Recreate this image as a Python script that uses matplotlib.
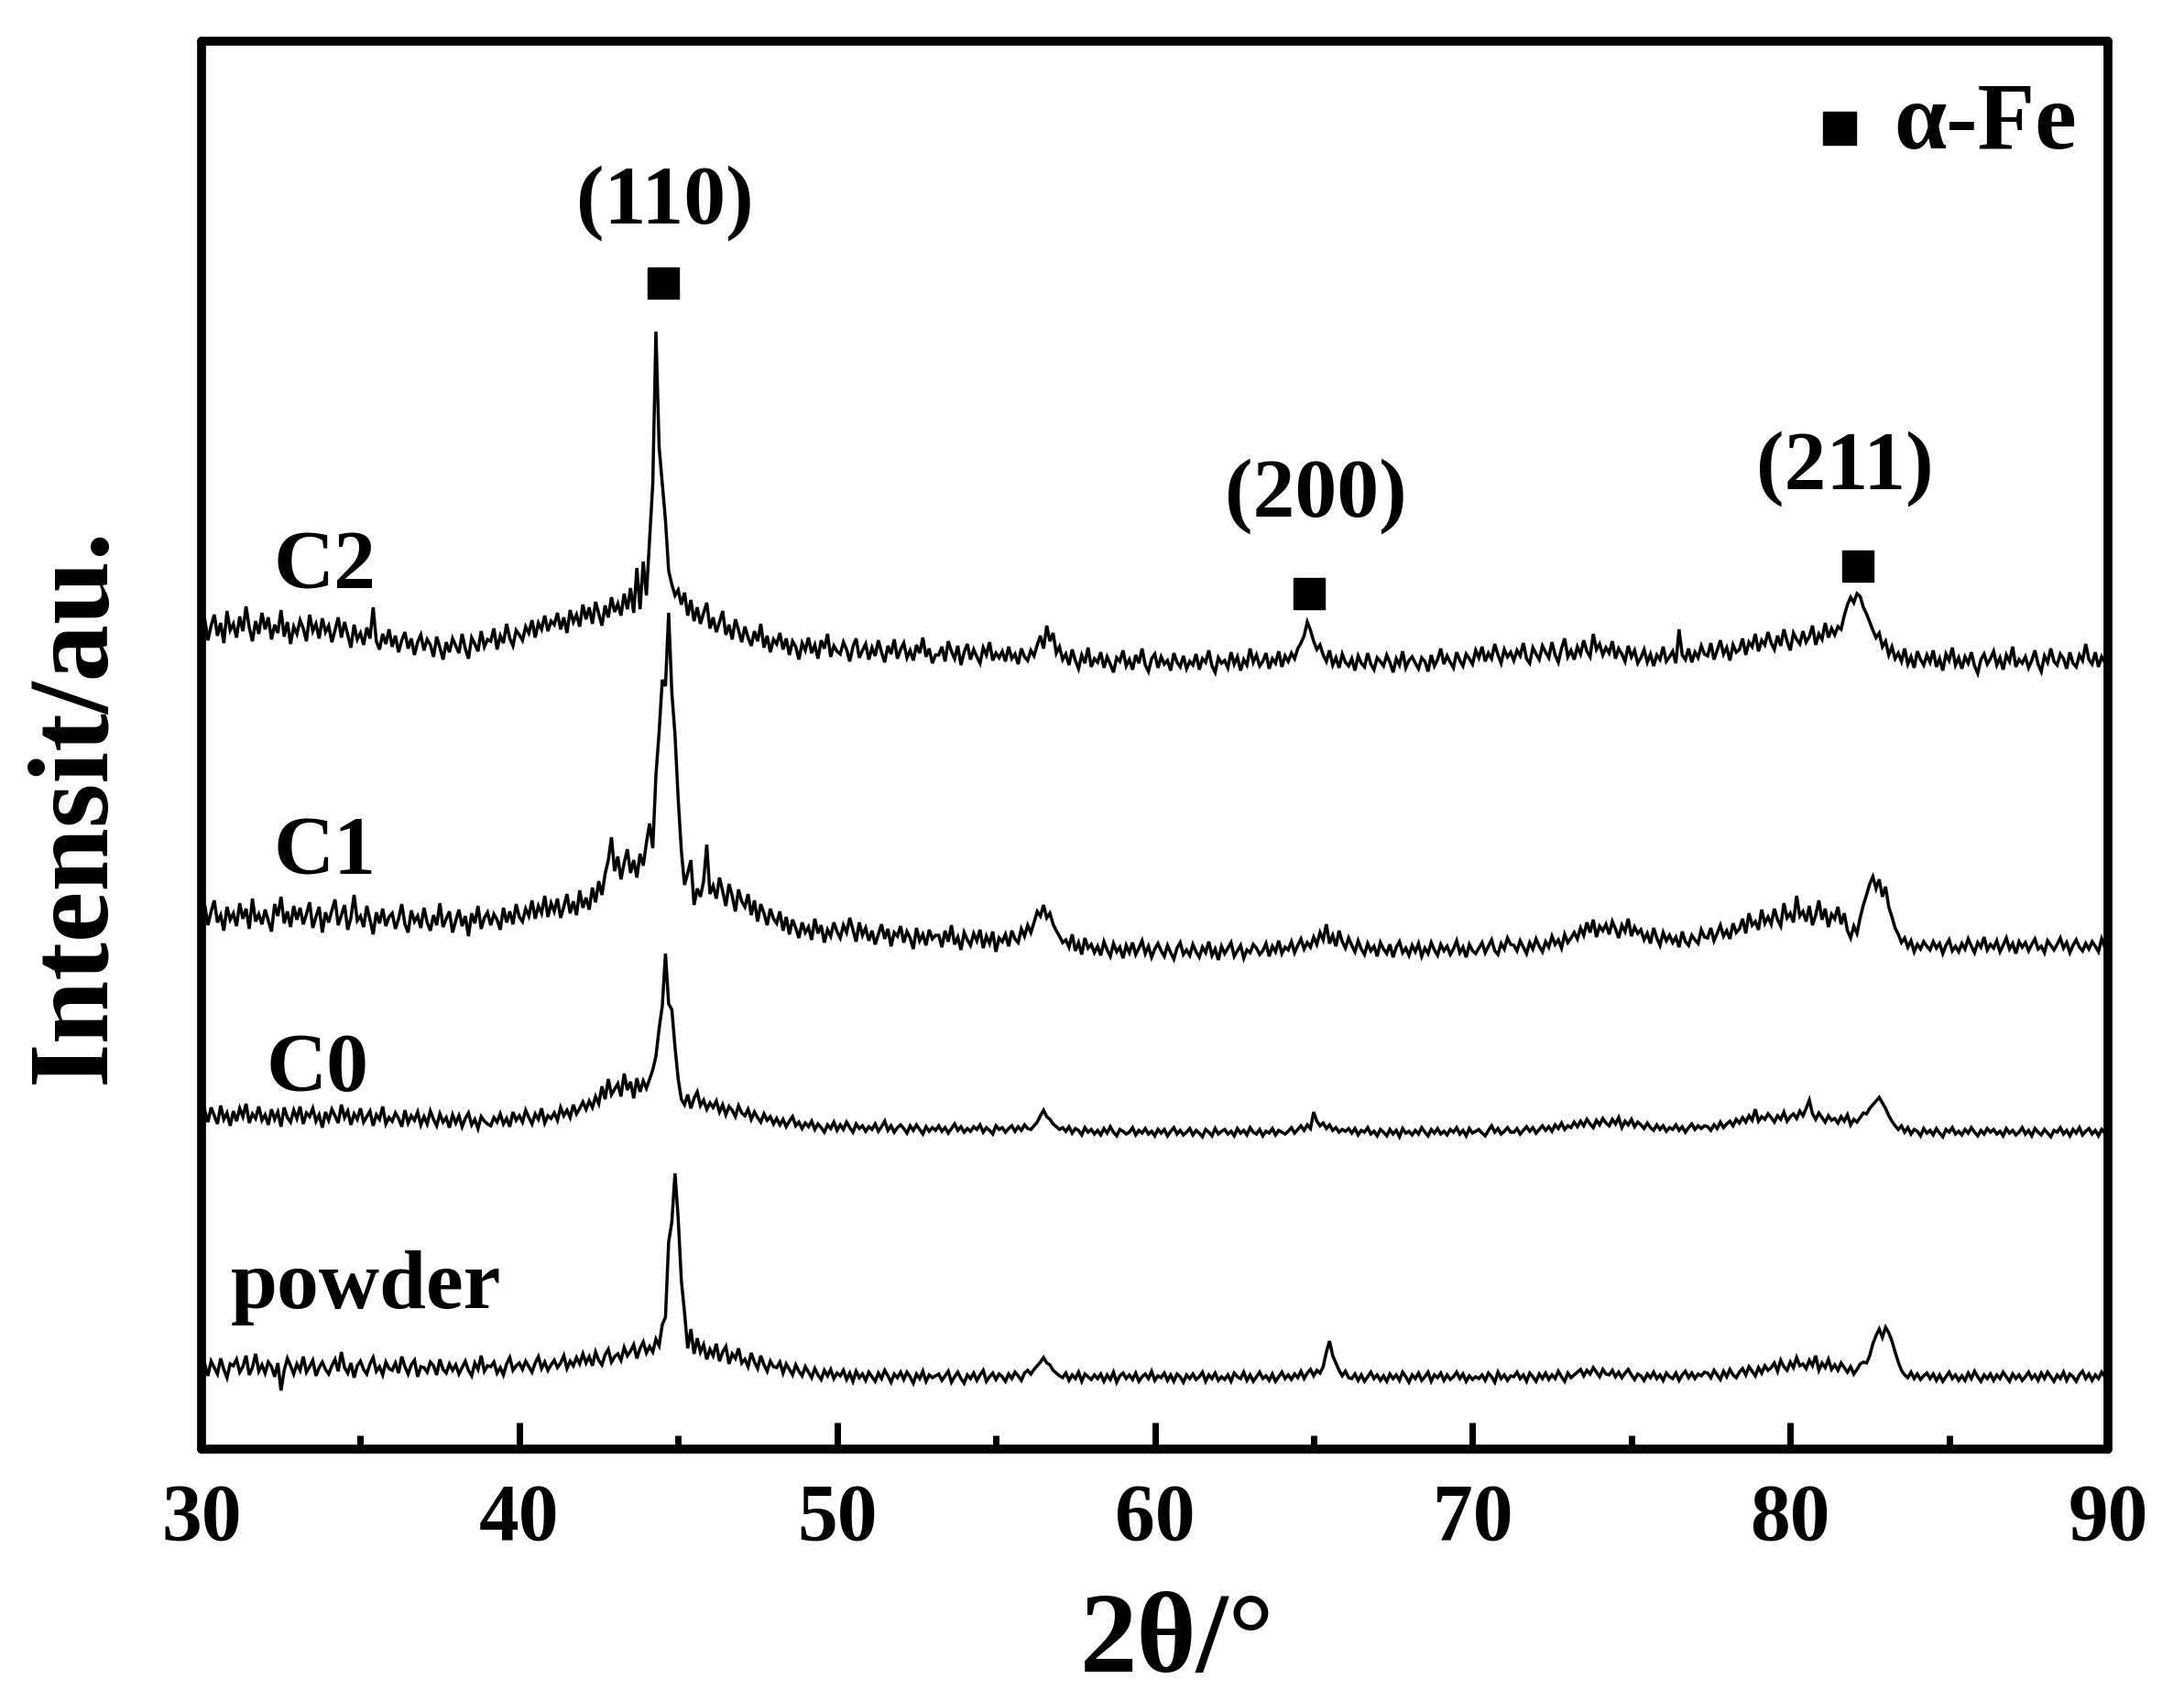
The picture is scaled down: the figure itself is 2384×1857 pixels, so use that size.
import numpy as np
import matplotlib
matplotlib.use('Agg')
import matplotlib.pyplot as plt

plt.rcParams['font.family'] = ['Liberation Serif', 'DejaVu Serif']
plt.rcParams['font.weight'] = 'bold'

# scan grid: 30 deg start, 0.1 deg step
start = 30.0
step = 0.1

# intensities (a.u.), one row per degree
powder = [
    91, 99, 86, 102, 95, 88, 105, 93, 84, 99,
    97, 104, 90, 96, 108, 87, 95, 110, 91, 98,
    89, 101, 96, 85, 100, 70, 92, 105, 97, 88,
    99, 92, 107, 90, 96, 103, 86, 95, 101, 93,
    88, 97, 104, 91, 112, 95, 89, 100, 84, 97,
    102, 93, 88, 99, 106, 91, 96, 87, 101, 94,
    92, 100, 89, 107, 96, 88, 98, 103, 85, 96,
    95, 90, 101, 97, 87, 104, 93, 89, 99, 92,
    98, 88, 95, 102, 92, 86, 100, 93, 108, 91, 97,
    96, 101, 89, 95, 87, 99, 106, 92, 97, 100,
    93, 102, 96, 90, 100, 107, 94, 101, 92, 98,
    103, 95, 100, 108, 94, 102, 97, 106, 99, 110,
    100, 107, 97, 112, 103, 98, 109, 115, 101, 107,
    110, 103, 117, 108, 113, 120, 105, 116, 123, 111,
    118, 112, 126, 119, 142, 150, 232, 254, 307, 258,
    190, 155, 116, 137, 110, 127, 112, 120, 104, 115,
    108, 121, 102, 112, 118, 99, 110, 105, 116, 100,
    104, 96, 111, 101, 94, 108, 98, 91, 102, 96,
    95, 101, 89, 99, 93, 87, 98, 91, 86, 96,
    90, 84, 94, 87, 82, 92, 86, 93, 83, 89,
    86, 92, 82, 89, 80, 91, 84, 88, 81, 90,
    85, 80, 89, 83, 92, 86, 79, 88, 84, 90,
    82, 90, 85, 78, 88, 83, 91, 80, 87, 84, 86,
    88, 81, 86, 91, 79, 85, 90, 83, 78, 87,
    83, 89, 81, 87, 92, 80, 85, 89, 82, 88,
    85, 80, 88, 83, 90, 86, 81, 89, 92, 88,
    93, 97, 101, 106, 100, 98, 92, 89, 86, 84,
    89, 81, 87, 83, 90, 80, 88, 85, 82, 87,
    83, 88, 80, 87, 82, 90, 79, 86, 89, 83,
    87, 82, 89, 80, 85, 88, 83, 91, 81, 86,
    84, 89, 81, 87, 80, 88, 85, 79, 87, 83,
    88, 82, 85, 90, 80, 87, 83, 89, 81, 85,
    82, 87, 80, 89, 85, 83, 90, 81, 87, 80,
    85, 90, 83, 86, 81, 88, 80, 85, 90, 83,
    87, 82, 88, 84, 91, 83, 89, 93, 86, 92,
    89, 96, 112, 124, 108, 100, 92, 86, 91, 84,
    83, 88, 81, 87, 80, 85, 90, 83, 87, 81,
    86, 80, 88, 83, 87, 81, 90, 85, 79, 87,
    83, 89, 81, 85, 90, 80, 87, 84, 89, 81,
    87, 82, 85, 90, 83, 88, 80, 86, 82, 85,
    83, 87, 81, 89, 85, 79, 90, 83, 87, 81, 86,
    85, 90, 83, 87, 80, 89, 85, 80, 88, 83,
    89, 82, 87, 83, 91, 85, 80, 89, 84, 87,
    90, 93, 86, 92, 88, 95, 90, 85, 93, 88,
    87, 92, 85, 90, 84, 89, 93, 87, 82, 88,
    86, 81, 88, 84, 90, 83, 87, 81, 89, 85,
    83, 89, 81, 87, 91, 84, 89, 83, 88, 86, 90,
    89, 84, 92, 87, 82, 91, 85, 93, 87, 84,
    90, 94, 87, 96, 91, 86, 95, 89, 97, 92,
    95, 100, 91, 103, 96, 92, 101, 95, 106, 97,
    99, 94, 103, 97, 108, 92, 100, 95, 104, 93,
    98, 92, 100, 95, 90, 96, 88, 93, 99, 101,
    100, 108, 121, 130, 137, 128, 139, 133, 124, 112,
    101, 92, 87, 84, 90, 83, 88, 82, 86, 89,
    83, 88, 81, 87, 80, 85, 90, 83, 87, 81,
    86, 81, 89, 83, 91, 85, 80, 87, 83, 88,
    81, 87, 83, 90, 85, 80, 88, 83, 87, 81,
    85, 90, 83, 87, 81, 89, 83, 90, 85, 80,
    87, 83, 90, 81, 88, 85, 80, 87, 91, 83,
    88, 81, 87, 83, 90, 85,
    84,
]

c0 = [
    108, 116, 103, 119, 110, 101, 121, 106, 113, 99,
    115, 104, 118, 109, 123, 102, 112, 107, 120, 105,
    111, 100, 117, 106, 114, 98, 119, 108, 103, 116,
    107, 120, 101, 113, 109, 118, 104, 111, 97, 114,
    105, 117, 110, 102, 122, 108, 115, 100, 112, 106,
    118, 103, 109, 115, 99, 111, 106, 120, 101, 108,
    104, 113, 107, 98, 116, 102, 110, 105, 114, 100,
    109, 101, 115, 106, 99, 112, 103, 108, 97, 111,
    102, 110, 98, 107, 113, 100, 106, 96, 109, 104, 101,
    99, 108, 103, 112, 101, 107, 98, 114, 105, 110,
    103, 116, 108, 101, 112, 106, 118, 102, 110, 107,
    113, 105, 119, 110, 116, 108, 122, 112, 118, 125,
    117, 126, 119, 131, 123, 142, 128, 150, 133, 139,
    145, 131, 156, 138, 147, 129, 151, 136, 148, 140,
    150, 160, 175, 205, 230, 287, 232, 226, 185, 150,
    128, 122, 133, 118, 129, 136, 121, 127, 117, 124,
    119, 126, 114, 122, 111, 120, 116, 109, 121, 113,
    110, 117, 106, 114, 108, 103, 112, 105, 109, 101,
    107, 100, 106, 98, 104, 109, 99, 103, 96, 102,
    98, 104, 95, 101, 97, 92, 100, 96, 103, 94,
    100, 95, 103, 97, 92, 101, 96, 99, 93, 98,
    95, 101, 93, 98, 104, 94, 99, 92, 97, 100,
    96, 91, 99, 94, 100, 95, 90, 98, 93, 97, 94,
    99, 93, 97, 91, 96, 101, 94, 98, 92, 96,
    93, 98, 95, 100, 92, 97, 94, 90, 99, 95,
    97, 92, 96, 99, 93, 98, 94, 100, 96, 95,
    99, 103, 110, 116, 109, 106, 101, 98, 95, 97,
    93, 98, 91, 96, 94, 89, 97, 92, 95, 90,
    94, 89, 96, 91, 98, 92, 88, 95, 93, 90,
    92, 97, 89, 94, 91, 96, 90, 93, 88, 95,
    91, 95, 88, 93, 97, 90, 94, 89, 92, 96,
    89, 94, 91, 87, 95, 92, 88, 96, 90, 93,
    95, 90, 93, 88, 96, 91, 94, 89, 97, 92,
    90, 95, 88, 93, 91, 96, 89, 94, 92, 90,
    93, 97, 91, 95, 99, 94, 100, 96, 114, 104,
    99, 102, 96, 100, 94, 97, 92, 95, 93, 96,
    91, 96, 89, 94, 92, 97, 90, 93, 88, 95,
    92, 88, 95, 90, 94, 87, 96, 91, 93, 89,
    94, 90, 97, 92, 88, 95, 91, 96, 90, 93,
    89, 95, 92, 97, 90, 94, 88, 96, 91, 93,
    95, 91, 88, 94, 99, 92, 96, 90, 93, 97, 92,
    92, 96, 90, 94, 98, 93, 97, 91, 95, 99,
    94, 98, 93, 100, 96, 102, 95, 99, 97, 103,
    98, 104, 99, 106, 101, 97, 105, 100, 107, 102,
    99, 106, 101, 108, 97, 104, 100, 106, 98, 103,
    100, 96, 102, 97, 94, 100, 95, 99, 93, 97,
    95, 100, 94, 98, 92, 97, 101, 95, 99, 96, 99,
    98, 94, 100, 96, 103, 97, 101, 104, 99, 106,
    102, 108, 103, 110, 105, 117, 104, 109, 106, 112,
    108, 103, 110, 106, 114, 104, 109, 112, 107, 115,
    110, 118, 127, 112, 106, 113, 108, 103, 110, 105,
    107, 102, 109, 104, 111, 100, 106, 103, 108, 113,
    112, 118, 122, 126, 130, 124, 118, 110, 104, 99,
    95, 99, 92, 97, 90, 95, 93, 88, 96, 91,
    94, 89, 96, 91, 87, 95, 92, 97, 90, 93,
    89, 95, 91, 97, 92, 88, 94, 90, 96, 92,
    95, 90, 93, 88, 96, 91, 94, 89, 92, 97,
    90, 94, 88, 96, 92, 89, 95, 91, 87, 94,
    92, 97, 90, 94, 88, 95, 91, 97, 89, 93,
    96, 90, 94, 88, 95, 91,
    91,
]

c1 = [
    126, 140, 118, 133, 145, 121, 129, 112, 138, 124,
    131, 117, 142, 125, 136, 114, 147, 122, 130, 119,
    135, 123, 111, 141, 128, 149, 120, 133, 116, 139,
    124, 137, 119, 130, 143, 115, 127, 138, 110, 132,
    121, 134, 146, 118, 129, 140, 113, 126, 151, 123,
    128, 116, 139, 124, 108, 132, 120, 136, 117, 127,
    131, 114, 125, 141, 119, 110, 134, 122, 128, 115,
    137, 121, 112, 129, 118, 142, 116, 125, 133, 110,
    123, 135, 117, 128, 106, 131, 120, 139, 114, 126, 132,
    118, 130, 124, 113, 137, 121, 133, 119, 141, 127,
    122, 136, 128, 145, 125, 139, 131, 150, 127, 142,
    133, 147, 126, 138, 152, 131, 144, 129, 156, 137,
    148, 135, 159, 143, 166, 151, 174, 189, 214, 177,
    193, 168, 186, 201, 175, 189, 170, 196, 183, 208,
    229, 202, 282, 329, 386, 379, 459, 372, 326, 256,
    199, 162, 175, 189, 140, 158, 149, 166, 206, 152,
    161, 147, 170, 155, 139, 163, 150, 133, 157, 144,
    138, 152, 129, 145, 122, 141, 131, 118, 136, 125,
    120, 133, 112, 127, 108, 124, 115, 104, 121, 110,
    116, 102, 125, 109, 118, 99, 113, 106, 121, 111,
    104, 118, 110, 126, 113, 100, 121, 107, 115, 101,
    112, 97, 108, 119, 103, 114, 95, 110, 106, 117,
    99, 111, 104, 92, 115, 101, 108, 96, 113, 103, 107,
    107, 94, 112, 100, 118, 97, 105, 91, 110, 102,
    96, 109, 101, 113, 93, 106, 98, 111, 89, 104,
    100, 108, 95, 112, 103, 99, 114, 106, 118, 110,
    121, 133, 128, 140, 126, 131, 119, 112, 106, 99,
    102, 94, 108, 90, 99, 86, 104, 93, 97, 88,
    95, 85, 100, 91, 84, 98, 89, 94, 82, 96,
    88, 99, 86, 93, 101, 87, 95, 83, 92, 98,
    90, 84, 96, 88, 81, 93, 99, 86, 91, 85,
    97, 89, 83, 94, 88, 100, 85, 92, 80, 95,
    87, 93, 99, 84, 90, 96, 82, 91, 88, 97,
    93, 86, 90, 98, 84, 95, 89, 101, 87, 94,
    91, 100, 88, 96, 103, 92, 99, 94, 105, 97,
    110, 102, 119, 98, 107, 95, 112, 100, 93, 104,
    96, 89, 101, 92, 86, 98, 90, 95, 84, 99,
    92, 87, 97, 83, 94, 100, 88, 93, 85, 96,
    89, 98, 84, 93, 87, 99, 91, 85, 97, 90,
    95, 86, 92, 101, 88, 94, 83, 97, 90, 87,
    93, 99, 88, 95, 102, 90, 86, 98, 92, 104, 97,
    96, 90, 101, 94, 87, 99, 92, 103, 95, 89,
    100, 94, 106, 97, 102, 93, 108, 99, 104, 110,
    103, 115, 107, 121, 110, 124, 105, 117, 112, 119,
    108, 122, 114, 104, 118, 111, 125, 106, 116, 109,
    113, 102, 109, 98, 115, 104, 96, 110, 101, 107,
    99, 105, 94, 111, 100, 96, 107, 102, 98, 113, 105,
    104, 115, 101, 109, 118, 106, 112, 103, 120, 110,
    114, 125, 109, 131, 118, 122, 113, 135, 120, 127,
    119, 136, 124, 117, 142, 126, 131, 121, 150, 128,
    133, 122, 139, 118, 129, 145, 124, 136, 116, 130,
    125, 138, 119, 131, 112, 104, 117, 109, 126, 140,
    151, 163, 171, 158, 168, 149, 160, 138, 127, 115,
    108, 99, 104, 94, 101, 89, 97, 92, 100, 95,
    91, 100, 93, 98, 87, 96, 102, 90, 95, 89,
    98, 92, 103, 95, 88, 99, 94, 105, 91, 97,
    93, 101, 89, 96, 104, 92, 98, 87, 100, 94,
    99, 90, 97, 103, 92, 95, 88, 101, 96, 91,
    97, 104, 93, 99, 88, 96, 102, 94, 90, 98,
    92, 100, 95, 89, 103, 94,
    96,
]

c2 = [
    128, 142, 119, 135, 147, 124, 138, 116, 151, 130,
    137, 122, 145, 129, 156, 133, 118, 140, 126, 149,
    131, 144, 120, 136, 127, 152, 123, 139, 115, 134,
    126, 141, 132, 118, 147, 129, 137, 121, 143, 128,
    135, 117, 130, 144, 122, 139, 125, 111, 136, 120,
    127, 114, 133, 121, 155, 118, 109, 126, 115, 131,
    112, 124, 106, 119, 128, 110, 121, 103, 117, 125,
    108, 120, 114, 101, 123, 111, 98, 117, 106, 121,
    113, 105, 126, 110, 99, 122, 115, 107, 129, 112, 120,
    118, 132, 109, 124, 116, 137, 121, 113, 130, 125,
    119, 134, 127, 141, 122, 138, 131, 146, 129, 140,
    136, 149, 131, 144, 127, 152, 139, 147, 134, 158,
    142, 155, 137, 161, 148, 135, 157, 144, 166, 150,
    159, 146, 170, 153, 176, 149, 198, 153, 205, 168,
    229, 290, 456, 330, 290, 250, 195, 180, 168, 174,
    158, 171, 146, 163, 140, 155, 137, 149, 160, 132,
    144, 128, 139, 151, 125, 136, 120, 142, 130, 117,
    134, 122, 113, 129, 118, 137, 111, 124, 106, 120,
    115, 127, 109, 121, 103, 118, 112, 98, 116, 108,
    122, 105, 114, 99, 119, 110, 126, 101, 113, 107,
    104, 117, 109, 96, 112, 121, 100, 108, 115, 98,
    111, 102, 119, 106, 95, 113, 104, 120, 99, 109,
    116, 100, 108, 97, 114, 105, 122, 101, 110, 94, 103,
    103, 112, 96, 118, 107, 99, 113, 92, 106, 115,
    98, 109, 101, 94, 111, 103, 117, 97, 105, 100,
    107, 96, 112, 99, 104, 93, 110, 101, 97, 108,
    102, 114, 124, 110, 135, 118, 127, 105, 112, 98,
    104, 92, 109, 97, 88, 103, 94, 111, 90, 99,
    95, 106, 89, 101, 93, 84, 100, 96, 108, 91,
    98, 87, 103, 94, 110, 92, 85, 99, 104, 89,
    101, 93, 97, 86, 105, 95, 90, 102, 88, 96,
    92, 104, 87, 99, 95, 108, 91, 84, 100, 94,
    97, 89, 106, 93, 101, 86, 98, 92, 110, 95,
    103, 91, 96, 105, 88, 99, 94, 107, 90, 102,
    96, 105, 99, 110, 116, 124, 139, 130, 118, 109,
    114, 103, 96, 108, 92, 100, 89, 104, 95, 91,
    99, 86, 102, 94, 90, 105, 93, 87, 100, 96,
    91, 103, 95, 84, 99, 92, 107, 89, 97, 101,
    94, 88, 100, 96, 85, 103, 91, 98, 110, 93,
    102, 95, 89, 106, 97, 91, 104, 99, 93, 108,
    100, 112, 96, 105, 99, 115, 103, 94, 109, 101, 106,
    97, 108, 102, 116, 99, 94, 111, 104, 98, 113,
    106, 100, 117, 103, 95, 110, 121, 101, 108, 98,
    112, 104, 119, 107, 101, 126, 109, 115, 103, 111,
    105, 118, 99, 110, 104, 96, 113, 101, 108, 94,
    100, 109, 95, 104, 91, 103, 98, 112, 96, 101,
    107, 94, 131, 103, 98, 110, 95, 106, 100, 113, 104,
    102, 116, 98, 108, 119, 104, 111, 97, 114, 106,
    109, 121, 103, 117, 112, 126, 107, 119, 114, 128,
    116, 109, 124, 113, 131, 118, 108, 127, 120, 115,
    129, 117, 123, 135, 114, 126, 120, 138, 122, 132,
    125, 134, 131, 146, 158, 166, 160, 170, 167, 155,
    148, 139, 130, 122, 127, 112, 118, 103, 112, 99,
    105, 96, 110, 93, 101, 89, 107, 98, 92, 103,
    95, 108, 90, 99, 86, 104, 97, 111, 92, 100,
    88, 101, 94, 106, 91, 83, 98, 104, 93, 99,
    107, 92, 100, 87, 103, 96, 112, 90, 98, 94,
    101, 89, 97, 108, 93, 85, 102, 95, 110, 96,
    92, 104, 99, 88, 106, 94, 90, 103, 97, 115,
    98, 93, 106, 90, 101, 95,
    97,
]

names = ['powder', 'C0', 'C1', 'C2']
series = [powder, c0, c1, c2]
offsets = [0, 260, 460, 770]   # vertical stacking of the patterns

peak_hkl = ['(110)', '(200)', '(211)']
peak_2theta = [44.53, 64.86, 82.13]

fig = plt.figure(figsize=(23.84, 18.58), dpi=100)
ax = fig.add_axes([0.0923, 0.148, 0.8729, 0.8272])

for y, off in zip(series, offsets):
    y = np.array(y, dtype=float)
    x = start + step * np.arange(len(y))
    ax.plot(x, y + off, color='black', lw=2.5, solid_joinstyle='miter')

# sample names next to each pattern
lab_x = [30.92, 32.02, 32.25, 32.25]
lab_y = [183, 420, 657, 970]
for nm, lx, ly in zip(names, lab_x, lab_y):
    ax.text(lx, ly, nm, fontsize=66, fontweight='bold', ha='left', va='center')

# alpha-Fe peak markers and hkl labels
mark_y = [1279, 940, 970]
hkl_x = [44.59, 65.06, 81.73]
hkl_y = [1367, 1047, 1077]
ax.plot(peak_2theta, mark_y, 's', color='black', ms=25)
for t, hx, hy in zip(peak_hkl, hkl_x, hkl_y):
    ax.text(hx, hy, t, fontsize=66, fontweight='bold', ha='center', va='center')

# legend
ax.plot([81.56], [1448], 's', color='black', ms=26)
ax.text(83.25, 1452, 'α-Fe', fontsize=74, fontweight='bold', ha='left', va='center')

ax.set_xlim(30, 90)
ax.set_ylim(6, 1543)
ax.set_xticks(np.arange(30, 91, 10))
ax.set_xticks(np.arange(35, 90, 10), minor=True)
ax.set_yticks([])
ax.tick_params(axis='x', which='major', direction='in', length=21, width=5,
               labelsize=63, pad=26, top=False)
ax.tick_params(axis='x', which='minor', direction='in', length=11, width=5, top=False)
for lab in ax.get_xticklabels():
    lab.set_fontweight('bold')
for sp in ax.spines.values():
    sp.set_linewidth(7)
    sp.set_capstyle('round')

fig.text(84 / 2384, 1 - 879 / 1858, 'Intensit/au.', rotation=90, fontsize=90,
         fontweight='bold', ha='center', va='center')
fig.text(1285 / 2384, 1 - 1795 / 1858, '2θ/°', fontsize=90,
         fontweight='bold', ha='center', va='center')

fig.savefig('out.png', dpi=100)
